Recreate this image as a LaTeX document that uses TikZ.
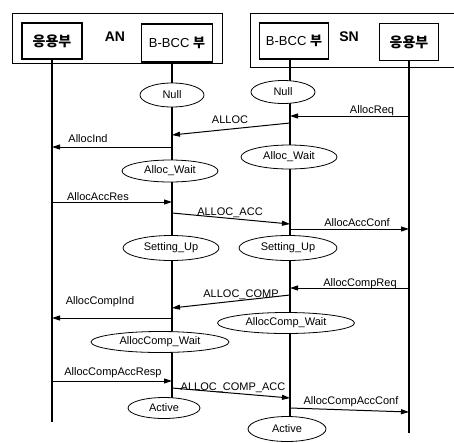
\documentclass[tikz,border=0pt]{standalone}
\usepackage{fontspec}
\setmainfont{Liberation Sans}
\newfontfamily\kr{Noto Sans CJK KR}
\usetikzlibrary{arrows.meta,positioning,shapes.geometric,backgrounds}

\begin{document}
\begin{tikzpicture}[
  x=1pt, y=-1pt,
  font=\fontsize{11}{13}\selectfont,
  netbox/.style={draw, line width=0.8pt},
  unit/.style={draw, line width=1.3pt, fill=white, inner sep=0pt},
  state/.style={draw, ellipse, fill=white, inner sep=0pt, line width=0.8pt},
  life/.style={line width=1.2pt},
  msg/.style={-{Triangle[length=8pt,width=5pt]}, line width=1pt},
  lbl/.style={inner sep=0pt, anchor=base}
]
\useasboundingbox (0,0) rectangle (454,442);

% AN and SN
\draw[netbox] (12,13) rectangle (222,63);
\draw[netbox] (454,13) -- (250,13) -- (250,67) -- (454,67);

\node[unit, minimum width=60pt, minimum height=36pt, font=\kr\bfseries\fontsize{14}{16}\selectfont] (anapp) at (52,41) {응용부};
\node[font=\bfseries\fontsize{14}{16}\selectfont] (anname) at (115,37) {AN};
\node[unit, minimum width=71pt, minimum height=38pt, font=\fontsize{13}{15}\selectfont] (anbcc) at (177,43) {B-BCC {\kr\bfseries 부}};

\node[unit, minimum width=69pt, minimum height=36pt, font=\fontsize{13}{15}\selectfont] (snbcc) at (294,41) {B-BCC {\kr\bfseries 부}};
\node[font=\bfseries\fontsize{14}{16}\selectfont] (snname) at (349,37) {SN};
\node[unit, minimum width=59pt, minimum height=37pt, font=\kr\bfseries\fontsize{14}{16}\selectfont] (snapp) at (409,42) {응용부};

% states
\node[state, minimum width=64pt, minimum height=24pt] (annull) at (172,95) {Null};
\node[state, minimum width=64pt, minimum height=23pt] (snnull) at (283,92) {Null};
\node[state, minimum width=96pt, minimum height=22pt] (anwait) at (170,171) {Alloc\_Wait};
\node[state, minimum width=96pt, minimum height=24pt] (snwait) at (289,157) {Alloc\_Wait};
\node[state, minimum width=96pt, minimum height=25pt] (anset) at (171,248) {Setting\_Up};
\node[state, minimum width=98pt, minimum height=25pt] (snset) at (288,248) {Setting\_Up};
\node[state, minimum width=137pt, minimum height=21pt] (sncompw) at (286,323) {AllocComp\_Wait};
\node[state, minimum width=138pt, minimum height=21pt] (ancompw) at (160,342) {AllocComp\_Wait};
\node[state, minimum width=72pt, minimum height=21pt] (anact) at (164,408) {Active};
\node[state, minimum width=78pt, minimum height=25pt] (snact) at (287,429) {Active};

% lifelines
\coordinate (anbcctop) at (172,62);
\coordinate (anbccend) at (172,399);
\coordinate (snbcctop) at (290,59);
\coordinate (snbccend) at (290,418);
\coordinate (anappend) at (52,422);
\coordinate (snappend) at (409,433);

\begin{scope}[on background layer]
\draw[life] (anapp.south) -- (anappend);
\draw[life] (anbcctop) -- (anbccend);
\draw[life] (snbcctop) -- (snbccend);
\draw[life] (snapp.south) -- (snappend);
\end{scope}

% messages
\coordinate (reqs) at (409,116);
\coordinate (reqe) at (290,116);
\draw[msg] (reqs) -- (reqe);
\node[lbl] (reqlbl) at (372,113) {AllocReq};

\coordinate (allocs) at (290,123);
\coordinate (alloce) at (172,135);
\draw[msg] (allocs) -- (alloce);
\node[lbl] (alloclbl) at (230,123) {ALLOC};

\coordinate (inds) at (172,147);
\coordinate (inde) at (52,147);
\draw[msg] (inds) -- (inde);
\node[lbl] (indlbl) at (88,142) {AllocInd};

\coordinate (accress) at (52,202);
\coordinate (accrese) at (172,202);
\draw[msg] (accress) -- (accrese);
\node[lbl] (accreslbl) at (98,200) {AllocAccRes};

\coordinate (accs) at (172,213);
\coordinate (acce) at (290,224);
\draw[msg] (accs) -- (acce);
\node[lbl] (acclbl) at (230,215) {ALLOC\_ACC};

\coordinate (accconfs) at (290,229);
\coordinate (accconfe) at (409,229);
\draw[msg] (accconfs) -- (accconfe);
\node[lbl] (accconflbl) at (357,226) {AllocAccConf};

\coordinate (compreqs) at (409,288);
\coordinate (compreqe) at (290,288);
\draw[msg] (compreqs) -- (compreqe);
\node[lbl] (compreqlbl) at (360,286) {AllocCompReq};

\coordinate (comps) at (290,295);
\coordinate (compe) at (172,308);
\draw[msg] (comps) -- (compe);
\node[lbl] (complbl) at (241,297) {ALLOC\_COMP};

\coordinate (compinds) at (172,318);
\coordinate (compinde) at (52,318);
\draw[msg] (compinds) -- (compinde);
\node[lbl] (compindlbl) at (100,304) {AllocCompInd};

\coordinate (compresps) at (52,381);
\coordinate (comprespe) at (172,381);
\draw[msg] (compresps) -- (comprespe);
\node[lbl] (compresplbl) at (113,375) {AllocCompAccResp};

\coordinate (compaccs) at (172,388);
\coordinate (compacce) at (290,398);
\draw[msg] (compaccs) -- (compacce);
\node[lbl] (compacclbl) at (233,390) {ALLOC\_COMP\_ACC};

\coordinate (compconfs) at (290,408);
\coordinate (compconfe) at (409,412);
\draw[msg] (compconfs) -- (compconfe);
\node[lbl] (compconflbl) at (351,404) {AllocCompAccConf};

\end{tikzpicture}
\end{document}
